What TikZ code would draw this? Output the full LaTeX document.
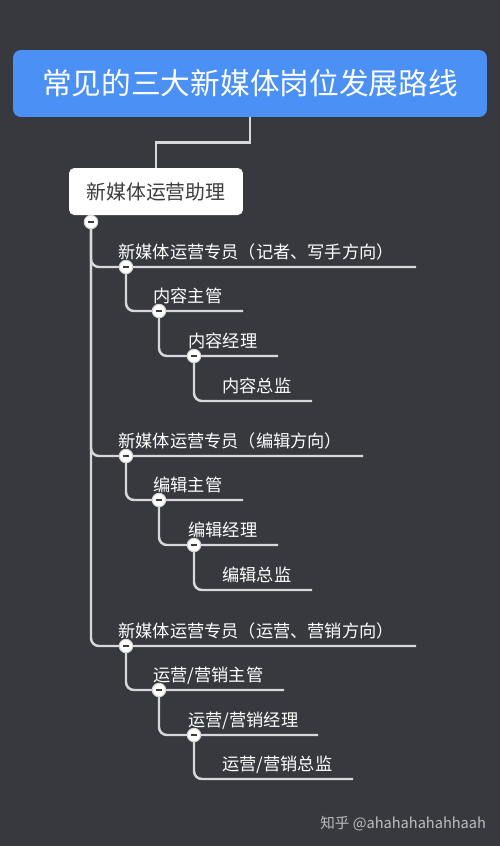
\documentclass[tikz,border=0pt]{standalone}
\usepackage{fontspec}
\setmainfont{Noto Sans CJK SC}
\usetikzlibrary{positioning, calc}
\definecolor{BgGray}{RGB}{55, 57, 62}
\definecolor{TitleBlue}{RGB}{74, 144, 245}
\definecolor{LineGray}{RGB}{216, 216, 216}
\definecolor{TextDark}{RGB}{60, 60, 60}
\definecolor{MarkGray}{RGB}{190, 190, 190}
\pgfdeclarelayer{bg}
\pgfdeclarelayer{lines}
\pgfsetlayers{bg,lines,main}

\begin{document}
\begin{tikzpicture}[
    x=0.02cm, y=-0.02cm,
    title/.style={rectangle, rounded corners=4.5pt, fill=TitleBlue, text=white, minimum width=9.48cm, minimum height=1.34cm, font=\fontsize{16.9pt}{20pt}\selectfont},
    rootbox/.style={rectangle, rounded corners=3pt, fill=white, text=TextDark, minimum width=3.48cm, minimum height=0.94cm, font=\fontsize{11.3pt}{13pt}\selectfont},
    branch/.style={draw=LineGray, line width=1.4pt, rounded corners=4.5pt},
    fold/.style={circle, fill=white, draw=LineGray, line width=0.6pt, inner sep=0pt, minimum size=7.6pt,
        path picture={\draw[TextDark, line width=1.1pt] ([xshift=-1.9pt]path picture bounding box.center) -- ([xshift=1.9pt]path picture bounding box.center);}},
    label/.style={anchor=base west, inner sep=0pt, text=white, font=\fontsize{9.8pt}{11pt}\selectfont}
]
    \begin{pgfonlayer}{bg}
        \fill[BgGray] (0,0) rectangle (500,846);
    \end{pgfonlayer}
    \useasboundingbox (0,0) rectangle (500,846);

    \node[title] (title) at (250,83.5) {常见的三大新媒体岗位发展路线};
    \node[rootbox] (root) at (156,191.5) {新媒体运营助理};
    \node[fold] (c0) at (91,222) {};

    % group 1
    \node[fold] (a1) at (126,267) {};
    \node[fold] (a2) at (159,311) {};
    \node[fold] (a3) at (194,356) {};
    \coordinate (ae1) at (416,267);
    \coordinate (ae2) at (243,311);
    \coordinate (ae3) at (278,356);
    \coordinate (ae4) at (312,401);
    \node[label] (at1) at (118,258) {新媒体运营专员（记者、写手方向）};
    \node[label] (at2) at (153,302) {内容主管};
    \node[label] (at3) at (188,347) {内容经理};
    \node[label] (at4) at (222,392) {内容总监};

    % group 2
    \node[fold] (b1) at (126,456) {};
    \node[fold] (b2) at (159,500) {};
    \node[fold] (b3) at (194,545) {};
    \coordinate (be1) at (363,456);
    \coordinate (be2) at (243,500);
    \coordinate (be3) at (278,545);
    \coordinate (be4) at (312,590);
    \node[label] (bt1) at (118,447) {新媒体运营专员（编辑方向）};
    \node[label] (bt2) at (153,491) {编辑主管};
    \node[label] (bt3) at (188,536) {编辑经理};
    \node[label] (bt4) at (222,581) {编辑总监};

    % group 3
    \node[fold] (d1) at (126,646) {};
    \node[fold] (d2) at (159,690) {};
    \node[fold] (d3) at (194,735) {};
    \coordinate (de1) at (416,646);
    \coordinate (de2) at (284,690);
    \coordinate (de3) at (318,735);
    \coordinate (de4) at (353,779);
    \node[label] (dt1) at (118,637) {新媒体运营专员（运营、营销方向）};
    \node[label] (dt2) at (153,681) {运营/营销主管};
    \node[label] (dt3) at (188,726) {运营/营销经理};
    \node[label] (dt4) at (222,770) {运营/营销总监};

    \begin{pgfonlayer}{lines}
        \draw[branch, rounded corners=0pt] (title.south) |- ($(title.south)!.5!(root.north)$) -| (root.north);
        \draw[branch] (c0.center) |- (ae1);
        \draw[branch] (c0.center) |- (be1);
        \draw[branch] (c0.center) |- (de1);
        \draw[branch] (a1.center) |- (ae2);
        \draw[branch] (a2.center) |- (ae3);
        \draw[branch] (a3.center) |- (ae4);
        \draw[branch] (b1.center) |- (be2);
        \draw[branch] (b2.center) |- (be3);
        \draw[branch] (b3.center) |- (be4);
        \draw[branch] (d1.center) |- (de2);
        \draw[branch] (d2.center) |- (de3);
        \draw[branch] (d3.center) |- (de4);
    \end{pgfonlayer}

    \node[anchor=west, inner sep=0pt, text=MarkGray, font=\fontsize{8.3pt}{10pt}\selectfont] (mark) at (320,824) {知乎 @ahahahahahhaah};
\end{tikzpicture}
\end{document}
